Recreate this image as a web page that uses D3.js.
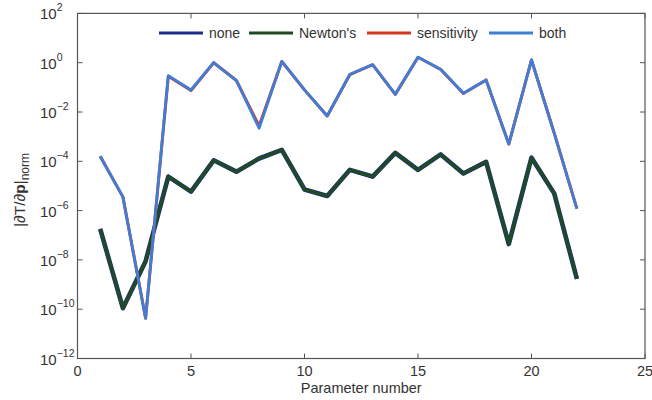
<!DOCTYPE html>
<html>
<head>
<meta charset="utf-8">
<script src="https://cdn.jsdelivr.net/npm/d3@7"></script>
<style>
  body { margin: 0; background: #fff; }
  text { font-family: "Liberation Sans", Arial, sans-serif; fill: #333; }
</style>
</head>
<body>
<div id="chart"></div>
<script>
const params = d3.range(1, 23);
const noneVals = [1.8e-7, 1.1e-10, 8.9e-9, 2.4e-5, 5.9e-6, 1.1e-4, 3.8e-5, 1.3e-4, 2.9e-4, 7.2e-6, 3.9e-6,
                  4.5e-5, 2.4e-5, 2.2e-4, 4.5e-5, 1.9e-4, 3.2e-5, 9.5e-5, 4.4e-8, 1.4e-4, 5.0e-6, 1.7e-9];
const newtonVals = [1.8e-7, 1.1e-10, 8.9e-9, 2.4e-5, 5.9e-6, 1.1e-4, 3.8e-5, 1.3e-4, 2.9e-4, 7.2e-6, 3.9e-6,
                    4.5e-5, 2.4e-5, 2.2e-4, 4.5e-5, 1.9e-4, 3.2e-5, 9.5e-5, 4.4e-8, 1.4e-4, 5.0e-6, 1.7e-9];
const sensVals = [1.6e-4, 3.6e-6, 4.3e-11, 0.28, 0.075, 1.0, 0.19, 2.7e-3, 1.12, 0.079, 6.9e-3,
                  0.33, 0.83, 0.052, 1.66, 0.53, 0.056, 0.20, 5.0e-4, 1.29, 1.4e-3, 1.2e-6];
const bothVals = [1.6e-4, 3.6e-6, 4.3e-11, 0.30, 0.078, 1.0, 0.19, 2.2e-3, 1.12, 0.079, 6.9e-3,
                  0.34, 0.83, 0.052, 1.66, 0.54, 0.058, 0.20, 5.0e-4, 1.29, 1.4e-3, 1.2e-6];
const xTicks = [0, 5, 10, 15, 20, 25];
const yExps = [2, 0, -2, -4, -6, -8, -10, -12];
const seriesNames = ["none", "Newton's", "sensitivity", "both"];

const width = 652, height = 400;
const plotLeft = 77.5, plotRight = 645, plotTop = 13.4, plotBottom = 358.5;

const svg = d3.select('#chart').append('svg')
  .attr('width', width)
  .attr('height', height);

const x = d3.scaleLinear().domain([0, 25]).range([plotLeft, plotRight]);
const y = d3.scaleLog().domain([1e-12, 1e2]).range([plotBottom, plotTop]);

const axisColor = '#555';

// frame
svg.append('rect')
  .attr('x', plotLeft).attr('y', plotTop)
  .attr('width', plotRight - plotLeft).attr('height', plotBottom - plotTop)
  .attr('fill', 'none').attr('stroke', axisColor).attr('stroke-width', 1.2);

// ticks, inward on all four sides
const tickLen = 5;
xTicks.forEach(t => {
  svg.append('line').attr('x1', x(t)).attr('x2', x(t)).attr('y1', plotBottom).attr('y2', plotBottom - tickLen)
    .attr('stroke', axisColor);
  svg.append('line').attr('x1', x(t)).attr('x2', x(t)).attr('y1', plotTop).attr('y2', plotTop + tickLen)
    .attr('stroke', axisColor);
  svg.append('text').attr('x', x(t)).attr('y', plotBottom + 17)
    .attr('text-anchor', 'middle').attr('font-size', 14.5).text(t);
});

yExps.forEach(e => {
  const yy = y(Math.pow(10, e));
  svg.append('line').attr('x1', plotLeft).attr('x2', plotLeft + tickLen).attr('y1', yy).attr('y2', yy)
    .attr('stroke', axisColor);
  svg.append('line').attr('x1', plotRight).attr('x2', plotRight - tickLen).attr('y1', yy).attr('y2', yy)
    .attr('stroke', axisColor);
  const lab = svg.append('text').attr('x', 40).attr('y', yy + 6).attr('font-size', 15);
  lab.append('tspan').text('10');
  lab.append('tspan').attr('dy', -8).attr('font-size', 10.5).text(e < 0 ? '\u2212' + (-e) : e);
});

// axis titles
svg.append('text').attr('x', (plotLeft + plotRight) / 2).attr('y', 393)
  .attr('text-anchor', 'middle').attr('font-size', 14.5).text('Parameter number');

const yt = svg.append('text')
  .attr('transform', 'translate(25,190) rotate(-90)')
  .attr('text-anchor', 'middle').attr('font-size', 15.5);
yt.append('tspan').text('|\u2202T/\u2202');
yt.append('tspan').attr('font-weight', 'bold').text('p');
yt.append('tspan').text('|');
yt.append('tspan').attr('dy', 4).attr('font-size', 12).text('norm');

// lines
const line = d3.line()
  .x((d, i) => x(params[i]))
  .y(d => y(d));

const series = [
  { name: seriesNames[0], vals: noneVals, color: '#1c2c8c', w: 4.6 },
  { name: seriesNames[1], vals: newtonVals, color: '#1f4a22', w: 3.4 },
  { name: seriesNames[2], vals: sensVals, color: '#d2361f', w: 3 },
  { name: seriesNames[3], vals: bothVals, color: '#3f7ed6', w: 2.8 }
];

series.forEach(s => {
  svg.append('path')
    .datum(s.vals)
    .attr('d', line)
    .attr('fill', 'none')
    .attr('stroke', s.color)
    .attr('stroke-width', s.w)
    .attr('stroke-linejoin', 'round');
});

// legend
const legendX = [159, 249, 367, 489];
const legendY = 33;
series.forEach((s, i) => {
  svg.append('line')
    .attr('x1', legendX[i]).attr('x2', legendX[i] + 44)
    .attr('y1', legendY).attr('y2', legendY)
    .attr('stroke', s.color).attr('stroke-width', 3);
  svg.append('text')
    .attr('x', legendX[i] + 50).attr('y', legendY + 5)
    .attr('font-size', 14).text(s.name);
});
</script>
</body>
</html>
